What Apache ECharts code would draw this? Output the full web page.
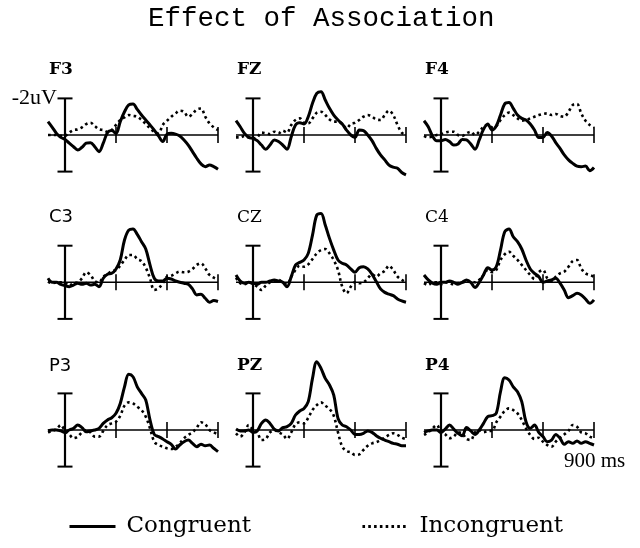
<!DOCTYPE html>
<html><head><meta charset="utf-8">
<script src="https://cdn.jsdelivr.net/npm/echarts@6/dist/echarts.min.js"></script>
<style>html,body{margin:0;padding:0;background:#fff}#c{width:640px;height:548px}</style>
</head><body><div id="c"></div>
<script>
// ---- data (time in ms, amplitude in microvolts; negative plotted up) ----
const times = [-100,-75,-50,-25,0,25,50,75,100,125,150,175,200,225,250,275,300,325,350,375,400,425,450,475,500,525,550,575,600,625,650,675,700,725,750,775,800,825,850,875,900];
const panelNames = ['F3','FZ','F4','C3','CZ','C4','P3','PZ','P4'];
const xTicks = [300,600,900];
const scaleMark = 2;
const scaleLabel = '-2uV';
const timeLabel = '900 ms';
const seriesNames = ['Congruent','Incongruent'];

const F3_con = [-0.73,-0.42,-0.09,0.13,0.24,0.45,0.64,0.82,0.67,0.45,0.42,0.64,0.91,0.45,-0.13,-0.24,-0.09,-0.73,-1.27,-1.64,-1.69,-1.4,-1.09,-0.82,-0.55,-0.27,0.05,0.36,-0.05,-0.09,-0.05,0.05,0.27,0.55,0.91,1.27,1.58,1.73,1.64,1.73,1.87];
const F3_inc = [0,0,0,0.05,0.05,-0.13,-0.27,-0.31,-0.42,-0.6,-0.67,-0.49,-0.31,-0.27,-0.18,-0.27,-0.55,-0.82,-0.96,-1.09,-1.04,-1.0,-0.82,-0.6,-0.36,-0.18,-0.09,-0.55,-0.78,-1.0,-1.18,-1.33,-1.27,-1.0,-1.15,-1.4,-1.45,-1.0,-0.64,-0.42,-0.27];
const FZ_con = [-0.78,-0.45,-0.09,0.13,0.18,0.31,0.55,0.78,0.55,0.27,0.36,0.55,0.78,0.09,-0.55,-0.67,-0.6,-1.0,-1.73,-2.27,-2.37,-1.91,-1.46,-1.09,-0.82,-0.6,-0.27,0,0.13,-0.27,-0.24,0,0.31,0.73,1.09,1.36,1.64,1.76,1.82,2.05,2.18];
const FZ_inc = [0.13,0.13,0.05,0.13,0.18,0.13,-0.13,-0.09,-0.05,-0.18,-0.09,-0.24,-0.13,-0.55,-0.82,-0.91,-0.67,-0.64,-0.91,-1.22,-1.27,-1.09,-0.85,-0.73,-0.73,-0.6,-0.36,-0.6,-0.67,-0.82,-1.0,-1.09,-1.0,-0.85,-0.82,-1.09,-1.33,-1.09,-0.55,-0.13,0];
const F4_con = [-0.78,-0.45,0.05,0.31,0.31,0.24,0.36,0.55,0.49,0.24,0.27,0.49,0.78,0.27,-0.31,-0.6,-0.27,-0.49,-1.09,-1.7,-1.77,-1.46,-1.09,-0.91,-0.82,-0.6,-0.27,0.13,0.13,-0.13,0.05,0.42,0.73,1.09,1.36,1.55,1.7,1.73,1.7,1.95,1.77];
const F4_inc = [0.05,0.13,0.09,0,-0.05,-0.13,-0.18,-0.18,0,0.05,-0.09,-0.18,0,-0.18,-0.45,-0.55,-0.42,-0.49,-0.82,-1.09,-1.22,-1.09,-0.91,-0.78,-0.82,-0.91,-1.0,-1.09,-1.15,-1.18,-1.09,-1.15,-1.04,-1.0,-1.27,-1.64,-1.7,-1.18,-0.78,-0.55,-0.42];
const C3_con = [-0.22,0,0,0.11,0.18,0.24,0.15,0.05,0.11,0.05,0.15,0.11,0.24,-0.22,-0.44,-0.49,-0.73,-1.22,-2.31,-2.85,-2.91,-2.62,-2.22,-1.82,-0.95,-0.22,-0.07,-0.07,-0.22,-0.18,-0.07,0,0.05,0.11,0.36,0.69,0.65,0.87,1.09,1.0,1.05];
const C3_inc = [-0.04,0.05,0,0,0.05,0.18,0.05,0,-0.22,-0.55,-0.4,-0.07,0,-0.31,-0.44,-0.62,-0.67,-0.91,-1.22,-1.49,-1.49,-1.27,-1.16,-0.8,-0.22,0.42,0.33,0.05,-0.31,-0.36,-0.49,-0.58,-0.55,-0.58,-0.73,-0.95,-1.04,-0.76,-0.4,-0.25,-0.13];
const CZ_con = [-0.4,-0.07,0.05,0,0.05,0.11,0,0,-0.07,-0.13,-0.07,0,0.24,-0.31,-0.95,-1.09,-1.22,-1.58,-2.58,-3.67,-3.76,-3.13,-2.4,-1.76,-1.22,-1.04,-0.95,-0.73,-0.55,-0.8,-0.85,-0.73,-0.44,-0.04,0.36,0.55,0.65,0.73,0.91,1.02,1.09];
const CZ_inc = [-0.25,0.05,0.11,0,0.11,0.24,0.42,0.18,0,-0.07,-0.13,0,0.11,-0.31,-0.67,-0.91,-0.85,-0.98,-1.27,-1.58,-1.76,-1.82,-1.58,-1.22,-0.67,0.24,0.6,0.24,0,0.05,0,-0.22,-0.44,-0.31,-0.49,-0.62,-0.91,-0.67,-0.31,-0.13,0];
const C4_con = [-0.4,-0.13,0.05,0.11,0,0,-0.07,0,0.11,0,-0.13,0,0.29,0,-0.4,-0.8,-0.67,-0.85,-1.76,-2.76,-2.91,-2.49,-2.22,-1.82,-1.22,-0.73,-0.49,-0.31,0,-0.07,-0.13,-0.22,0.05,0.42,0.84,0.73,0.6,0.69,0.91,1.15,0.96];
const C4_inc = [0.05,0.15,0,0,0.11,0,0.05,0.11,0.05,0,0,-0.07,0,-0.13,-0.4,-0.67,-0.55,-0.67,-1.22,-1.53,-1.67,-1.45,-1.22,-0.95,-0.67,-0.4,-0.18,-0.55,-0.67,-0.22,-0.07,-0.31,-0.49,-0.58,-0.85,-1.16,-1.22,-0.76,-0.49,-0.4,-0.31];
const P3_con = [0.05,0,0,0.05,0.13,0,-0.09,-0.27,-0.13,0.09,0.05,0,-0.09,-0.36,-0.55,-0.67,-0.91,-1.45,-2.36,-3.04,-2.91,-2.36,-2.0,-1.64,-0.55,0.24,0.36,0.49,0.64,0.78,1.04,0.82,0.64,0.55,0.73,0.91,0.78,0.86,0.82,1.0,1.18];
const P3_inc = [0.13,0.05,-0.05,-0.27,0.05,0.24,0.45,0.36,0.13,0,0.13,0.36,0.36,0.05,-0.27,-0.36,-0.45,-0.78,-1.33,-1.51,-1.45,-1.27,-1.09,-0.73,-0.09,0.64,0.82,0.91,1.0,1.04,0.91,0.73,0.45,0.27,0.13,-0.13,-0.42,-0.31,0,0.13,0.24];
const PZ_con = [-0.05,0.05,0.05,0,0.13,0.05,-0.36,-0.55,-0.36,-0.05,0.05,-0.13,-0.18,-0.36,-0.82,-1.04,-1.18,-1.55,-2.82,-3.73,-3.37,-2.82,-2.46,-1.91,-0.64,-0.27,-0.18,0,0.24,0.24,0.18,0.05,0.13,0.31,0.45,0.55,0.64,0.73,0.78,0.86,0.86];
const PZ_inc = [0.18,0.36,0.13,-0.27,0,0.13,0.55,0.49,0.13,0,0.13,0.24,0.49,0.13,-0.31,-0.42,-0.36,-0.67,-1.09,-1.36,-1.51,-1.33,-1.15,-0.78,0.13,0.91,1.15,1.22,1.36,1.33,1.09,0.86,0.73,0.67,0.55,0.42,0.27,0.18,0.27,0.42,0.49];
const P4_con = [0.13,0.05,0,0,0.13,-0.05,-0.27,-0.05,0.18,0.31,-0.13,0.05,0.24,0,-0.36,-0.73,-0.78,-0.91,-2.09,-2.85,-2.73,-2.36,-2.09,-1.55,-0.45,-0.09,-0.27,0.13,0.36,0.64,0.55,0.24,0.45,0.78,0.64,0.73,0.6,0.73,0.64,0.73,0.82];
const P4_inc = [0.27,0.13,-0.09,-0.27,0.13,0.24,0.45,0.36,0.13,0.18,0.49,0.55,0.13,0,0.13,0.05,0.05,-0.42,-0.73,-1.04,-1.18,-1.09,-0.91,-0.55,-0.09,0.27,0.49,0.42,0.64,0.82,0.91,0.64,0.42,0.24,0.05,-0.27,-0.18,0.13,0.18,0.36,0.45];

const congruent = [F3_con, FZ_con, F4_con, C3_con, CZ_con, C4_con, P3_con, PZ_con, P4_con];
const incongruent = [F3_inc, FZ_inc, F4_inc, C3_inc, CZ_inc, C4_inc, P3_inc, PZ_inc, P4_inc];

// ---- layout / style ----
const colLeft = [48, 236, 424];
const rowBase = [135, 282.3, 430];
const pxPerUV = 18.3;
const yMin = -4, yMax = 2.5;
const labelFont = {
  F3: 'bold 17px "DejaVu Serif"', FZ: 'bold 17px "DejaVu Serif"', F4: 'bold 17px "DejaVu Serif"',
  C3: '18px "DejaVu Sans"', CZ: '17px "DejaVu Serif"', C4: '17px "DejaVu Serif"',
  P3: '18px "DejaVu Sans"', PZ: 'bold 17px "DejaVu Serif"', P4: 'bold 17px "DejaVu Serif"'
};
const labelY = [70, 217.5, 366];

const grids = [], xAxes = [], yAxes = [], series = [], graphics = [];

function frameRender(params, api) {
  const c = (t, v) => api.coord([t, v]);
  const b0 = c(times[0], 0), b1 = c(times[times.length - 1], 0);
  const vt = c(0, -scaleMark), vb = c(0, scaleMark);
  const children = [
    {type: 'line', shape: {x1: b0[0], y1: b0[1], x2: b1[0], y2: b1[1]}, style: {stroke: '#000', lineWidth: 1.6}},
    {type: 'line', shape: {x1: vt[0], y1: vt[1], x2: vb[0], y2: vb[1]}, style: {stroke: '#000', lineWidth: 2.2}},
    {type: 'line', shape: {x1: vt[0] - 7.5, y1: vt[1], x2: vt[0] + 7.5, y2: vt[1]}, style: {stroke: '#000', lineWidth: 2}},
    {type: 'line', shape: {x1: vb[0] - 7.5, y1: vb[1], x2: vb[0] + 7.5, y2: vb[1]}, style: {stroke: '#000', lineWidth: 2}}
  ];
  xTicks.forEach(t => {
    const p = c(t, 0);
    children.push({type: 'line', shape: {x1: p[0], y1: p[1] - 8, x2: p[0], y2: p[1] + 8}, style: {stroke: '#000', lineWidth: 1.6}});
  });
  return {type: 'group', children};
}

panelNames.forEach((name, i) => {
  const r = Math.floor(i / 3), col = i % 3;
  grids.push({left: colLeft[col], width: 170, top: rowBase[r] - (-yMin) * pxPerUV, height: (yMax - yMin) * pxPerUV});
  xAxes.push({type: 'value', gridIndex: i, min: times[0], max: times[times.length - 1], show: false});
  yAxes.push({type: 'value', gridIndex: i, min: yMin, max: yMax, inverse: true, show: false});
  series.push({type: 'custom', xAxisIndex: i, yAxisIndex: i, data: [[0, 0]], renderItem: frameRender, z: 1, silent: true});
  series.push({
    name: seriesNames[1], type: 'line', xAxisIndex: i, yAxisIndex: i, z: 2, clip: false,
    data: times.map((t, k) => [t, incongruent[i][k]]), smooth: 0.35, symbol: 'none', silent: true,
    lineStyle: {color: '#000', width: 2.6, type: [2.6, 3.2], cap: 'butt'}, itemStyle: {color: '#000'}
  });
  series.push({
    name: seriesNames[0], type: 'line', xAxisIndex: i, yAxisIndex: i, z: 3, clip: false,
    data: times.map((t, k) => [t, congruent[i][k]]), smooth: 0.35, symbol: 'none', silent: true,
    lineStyle: {color: '#000', width: 3}, itemStyle: {color: '#000'}
  });
  graphics.push({type: 'text', style: {text: name, x: colLeft[col] + 1, y: labelY[r], font: labelFont[name], fill: '#000', verticalAlign: 'middle', align: 'left'}});
});

graphics.push({type: 'text', style: {text: scaleLabel, x: 57, y: 98.5, font: '22px "Liberation Serif"', fill: '#000', verticalAlign: 'middle', align: 'right'}});
graphics.push({type: 'text', style: {text: timeLabel, x: 564, y: 461, font: '21px "Liberation Serif"', fill: '#000', verticalAlign: 'middle', align: 'left'}});

const chart = echarts.init(document.getElementById('c'), null, {renderer: 'canvas'});
chart.setOption({
  animation: false,
  backgroundColor: '#fff',
  title: {text: 'Effect of Association', left: 148, top: 5, padding: 0,
    textStyle: {fontFamily: 'Liberation Mono', fontSize: 27.5, fontWeight: 'normal', color: '#000'}},
  legend: {data: seriesNames, left: 68, top: 515, padding: 0, itemWidth: 46, itemHeight: 14, itemGap: 110,
    itemStyle: {opacity: 0}, lineStyle: {width: 3},
    textStyle: {fontFamily: 'DejaVu Serif', fontSize: 23, color: '#000', padding: [0, 0, 0, 6]}},
  grid: grids, xAxis: xAxes, yAxis: yAxes, series: series, graphic: graphics
});
</script></body></html>
